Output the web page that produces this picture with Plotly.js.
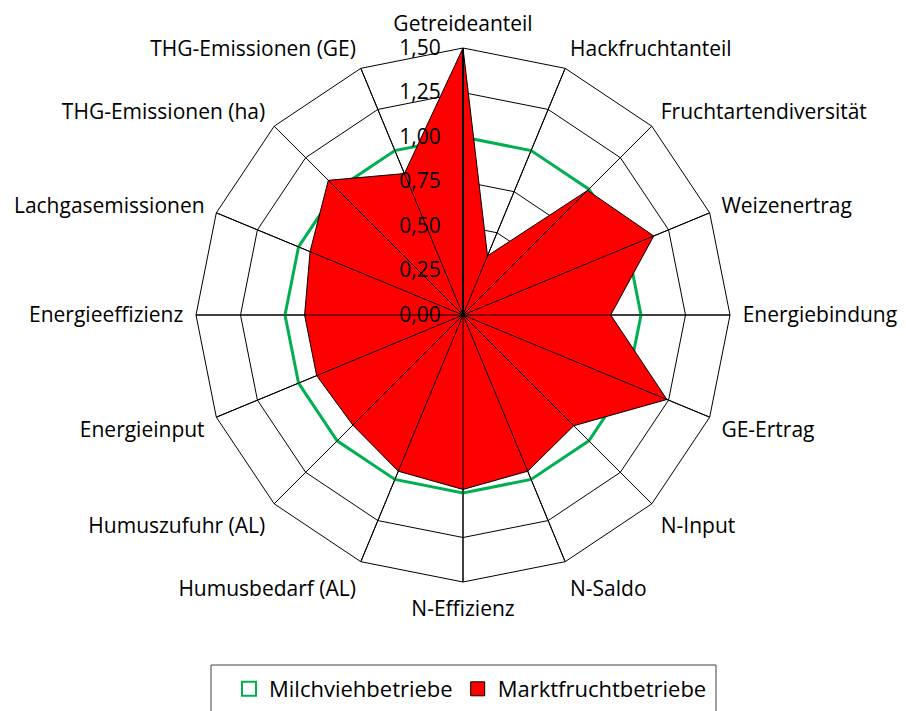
<!DOCTYPE html>
<html>
<head>
<meta charset="utf-8">
<script src="https://cdn.plot.ly/plotly-3.0.1.min.js"></script>
<style>html,body{margin:0;padding:0;background:#fff;}#chart{width:906px;height:711px;}</style>
</head>
<body>
<div id="chart"></div>
<script>
var categories = ["Getreideanteil","Hackfruchtanteil","Fruchtartendiversität","Weizenertrag","Energiebindung","GE-Ertrag","N-Input","N-Saldo","N-Effizienz","Humusbedarf (AL)","Humuszufuhr (AL)","Energieinput","Energieeffizienz","Lachgasemissionen","THG-Emissionen (ha)","THG-Emissionen (GE)"];
var milchvieh = [1,1,1,1,1,1,1,1,1,1,1,1,1,1,1,1];
var marktfrucht = [1.50,0.36,0.99,1.16,0.83,1.24,0.88,0.95,0.98,0.95,0.875,0.89,0.89,0.93,1.07,0.86];
var radialTicks = [0,0.25,0.5,0.75,1.0,1.25,1.5];
var rMax = 1.5;
var seriesNames = ["Milchviehbetriebe","Marktfruchtbetriebe"];

function closed(a){ return a.concat([a[0]]); }

// spokes drawn over the fill (as in the original)
var spokeR = [], spokeT = [];
categories.forEach(function(c){ spokeR.push(0, rMax, null); spokeT.push(c, c, null); });

var font = "'Open Sans', Lato, sans-serif";
var fs = 21;
var traces = [
  {type:'scatterpolar', name:seriesNames[0], r:closed(milchvieh), theta:closed(categories),
   mode:'lines', showlegend:false, line:{color:'#00b050', width:3}},
  {type:'scatterpolar', name:seriesNames[1], r:closed(marktfrucht), theta:closed(categories),
   mode:'lines', fill:'toself', fillcolor:'#ff0000', showlegend:false, line:{color:'#000000', width:1}},
  {type:'scatterpolar', r:spokeR, theta:spokeT, mode:'lines', showlegend:false, hoverinfo:'skip',
   connectgaps:false, line:{color:'#000000', width:1}},
  // legend keys (square swatches, no data drawn)
  {type:'scatterpolar', name:seriesNames[0], r:[null], theta:[null], mode:'markers',
   marker:{symbol:'square', size:14, color:'#ffffff', line:{color:'#00b050', width:2}}},
  {type:'scatterpolar', name:seriesNames[1], r:[null], theta:[null], mode:'markers',
   marker:{symbol:'square', size:14, color:'#ff0000', line:{color:'#000000', width:1}}}
];

var layout = {
  width:906, height:711,
  margin:{l:0,r:0,t:0,b:0},
  paper_bgcolor:'#ffffff',
  separators:',.',
  font:{family:font, size:fs, color:'#000000'},
  showlegend:true,
  legend:{orientation:'h', x:229/906, xanchor:'left', y:(711-668)/711, yanchor:'top',
          borderwidth:0, bgcolor:'rgba(0,0,0,0)', font:{family:font, size:22, color:'#000'},
          itemwidth:30, traceorder:'normal'},
  shapes:[{type:'rect', xref:'paper', yref:'paper', x0:211/906, x1:716/906, y0:-0.01, y1:(711-665)/711,
           line:{color:'#404040', width:1}, fillcolor:'rgba(0,0,0,0)', layer:'below'}],
  polar:{
    domain:{x:[(463-267)/906,(463+267)/906], y:[(396-267)/711,(396+267)/711]},
    bgcolor:'#ffffff',
    gridshape:'linear',
    angularaxis:{direction:'clockwise', rotation:90, type:'category',
      categoryorder:'array', categoryarray:categories,
      showline:true, linecolor:'#000', linewidth:1,
      showgrid:true, gridcolor:'#000', gridwidth:1,
      ticks:'outside', ticklen:8, tickcolor:'rgba(0,0,0,0)',
      tickfont:{family:font, size:fs, color:'#000'}},
    radialaxis:{range:[0,rMax], tickvals:radialTicks, tickformat:'.2f', angle:90, tickangle:90,
      side:'counterclockwise', showline:true, linecolor:'#000', linewidth:2,
      showgrid:true, gridcolor:'#000', gridwidth:1,
      ticks:'outside', ticklen:14, tickcolor:'rgba(0,0,0,0)', layer:'above traces',
      tickfont:{family:font, size:fs, color:'#000'}}
  }
};
Plotly.newPlot('chart', traces, layout, {displayModeBar:false, staticPlot:true});
</script>
</body>
</html>
